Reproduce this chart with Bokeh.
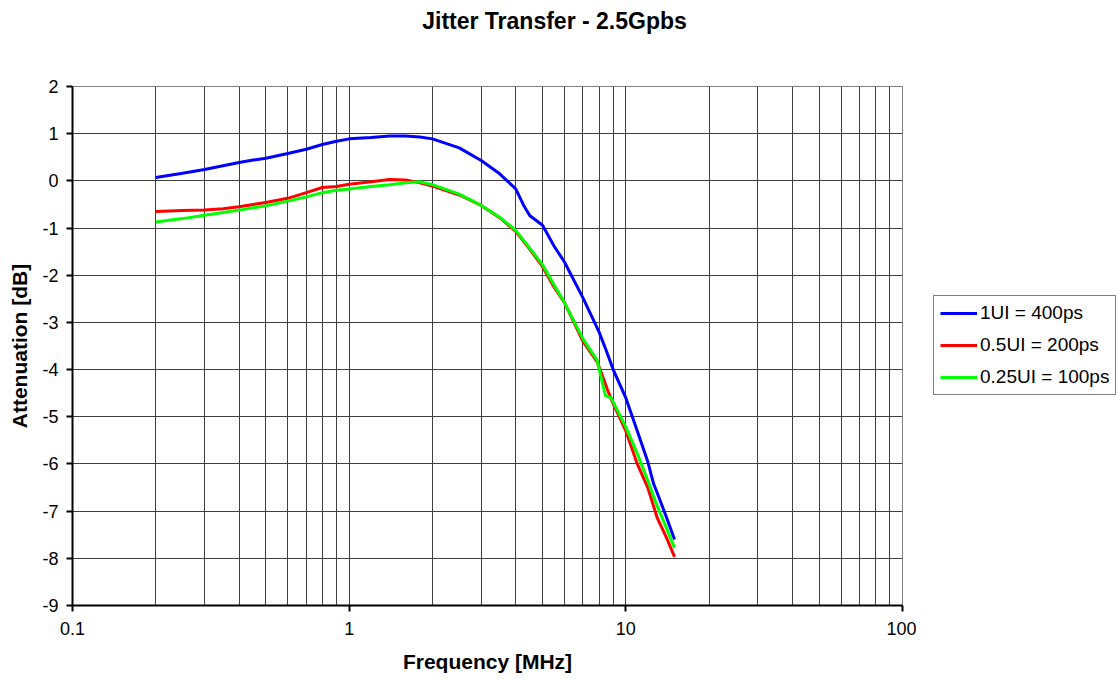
from bokeh.plotting import figure
from bokeh.models import Range1d, FixedTicker, LogTicker, Legend, LegendItem
from bokeh.core.properties import value
from bokeh.layouts import row, column
from bokeh.embed import file_html
from bokeh.resources import INLINE

# ---- data ----
freq_1ui = [0.2, 0.25, 0.3, 0.35, 0.4, 0.45, 0.5, 0.6, 0.7, 0.8, 0.9, 1.0, 1.2, 1.4, 1.6,
            1.8, 2.0, 2.5, 3.0, 3.5, 4.0, 4.3, 4.5, 5.0, 5.5, 6.0, 7.0, 8.0, 8.5, 9.0, 10,
            11, 12, 12.6, 13, 14, 15]
att_1ui = [0.07, 0.16, 0.24, 0.32, 0.39, 0.44, 0.48, 0.58, 0.67, 0.77, 0.84, 0.89, 0.92, 0.95,
           0.95, 0.93, 0.89, 0.70, 0.43, 0.15, -0.17, -0.55, -0.74, -0.94, -1.38, -1.72, -2.48,
           -3.20, -3.60, -4.00, -4.60, -5.30, -5.95, -6.42, -6.62, -7.12, -7.60]

freq_05ui = [0.2, 0.25, 0.3, 0.35, 0.4, 0.45, 0.5, 0.6, 0.7, 0.8, 0.9, 1.0, 1.2, 1.4, 1.6,
             1.8, 2.0, 2.5, 3.0, 3.5, 4.0, 4.5, 5.0, 5.5, 6.0, 7.0, 7.9, 8.6, 9.0, 10,
             11, 12, 13, 14, 15]
att_05ui = [-0.65, -0.63, -0.62, -0.59, -0.55, -0.50, -0.46, -0.37, -0.25, -0.14, -0.12, -0.07,
            -0.02, 0.03, 0.02, -0.04, -0.11, -0.30, -0.52, -0.78, -1.07, -1.45, -1.82, -2.25,
            -2.58, -3.40, -3.85, -4.44, -4.72, -5.30, -6.00, -6.50, -7.15, -7.55, -7.97]

freq_025ui = [0.2, 0.25, 0.3, 0.35, 0.4, 0.45, 0.5, 0.6, 0.7, 0.8, 0.9, 1.0, 1.2, 1.4, 1.6,
              1.8, 2.0, 2.5, 3.0, 3.5, 4.0, 4.5, 5.0, 5.5, 6.0, 7.0, 7.87, 8.44, 8.85, 10,
              11, 12, 13, 14, 15]
att_025ui = [-0.87, -0.80, -0.73, -0.67, -0.62, -0.57, -0.53, -0.43, -0.34, -0.25, -0.20, -0.17,
             -0.12, -0.08, -0.04, -0.02, -0.08, -0.28, -0.52, -0.77, -1.05, -1.43, -1.78, -2.20,
             -2.58, -3.35, -3.80, -4.55, -4.60, -5.22, -5.78, -6.35, -6.90, -7.35, -7.78]

series_freqs = [freq_1ui, freq_05ui, freq_025ui]
series_atts = [att_1ui, att_05ui, att_025ui]
series_labels = ["1UI = 400ps", "0.5UI = 200ps", "0.25UI = 100ps"]
series_colors = ["#0000FF", "#FF0000", "#00FF00"]
y_ticks = list(range(-9, 3))
x_tick_labels = {0.1: "0.1", 1: "1", 10: "10", 100: "100"}
chart_title = "Jitter Transfer - 2.5Gpbs"

FONT = "Liberation Sans"

# ---- title strip ----
tf = figure(width=1116, height=40, output_backend="svg", toolbar_location=None,
            x_range=Range1d(0, 1116), y_range=Range1d(0, 40),
            min_border_left=0, min_border_right=0, min_border_top=0, min_border_bottom=0)
tf.axis.visible = False
tf.grid.visible = False
tf.outline_line_color = None
tf.background_fill_color = "white"
tf.border_fill_color = "white"
tf.text(x=[554], y=[20], text=[chart_title], text_align="center", text_baseline="middle",
        text_font=value(FONT), text_font_size="23px", text_font_style="bold", text_color="black")

# ---- main chart ----
p = figure(width=916, height=639, x_axis_type="log",
           x_range=Range1d(0.1, 100), y_range=Range1d(-9, 2),
           output_backend="svg", toolbar_location=None,
           min_border_left=72, min_border_right=14, min_border_top=46, min_border_bottom=74)

p.background_fill_color = "white"
p.border_fill_color = "white"
p.outline_line_color = "#808080"
p.outline_line_width = 1

p.xaxis.ticker = LogTicker(num_minor_ticks=10)
p.yaxis.ticker = FixedTicker(ticks=y_ticks)
for ax in (p.xaxis[0], p.yaxis[0]):
    ax.axis_line_color = "black"
    ax.axis_line_width = 2
    ax.major_tick_line_color = "black"
    ax.major_tick_line_width = 2
    ax.major_tick_out = 6
    ax.major_tick_in = 0
    ax.minor_tick_line_color = None
    ax.major_label_text_font = FONT
    ax.major_label_text_font_size = "18px"
    ax.major_label_text_color = "black"
    ax.axis_label_text_font = FONT
    ax.axis_label_text_font_size = "21px"
    ax.axis_label_text_font_style = "bold"
    ax.axis_label_text_color = "black"

p.xaxis.axis_label = "Frequency [MHz]"
p.yaxis.axis_label = "Attenuation [dB]"
p.xaxis.major_label_standoff = 10
p.yaxis.major_label_standoff = 8
p.xaxis.axis_label_standoff = 12
p.yaxis.axis_label_standoff = 8
p.xaxis.major_label_overrides = x_tick_labels
p.yaxis.major_label_overrides = {t: str(t) for t in y_ticks}

p.xgrid.grid_line_color = "#404040"
p.xgrid.grid_line_width = 1
p.xgrid.minor_grid_line_color = "#404040"
p.xgrid.minor_grid_line_width = 1
p.ygrid.grid_line_color = "#404040"
p.ygrid.grid_line_width = 1

for fr, at, col in zip(series_freqs, series_atts, series_colors):
    p.line(fr, at, line_color=col, line_width=3)

# ---- legend strip (to the right; series drawn off-range so only legend shows) ----
lg = figure(width=200, height=639, output_backend="svg", toolbar_location=None,
            x_range=Range1d(0, 1), y_range=Range1d(100, 101),
            min_border_left=0, min_border_right=0, min_border_top=0, min_border_bottom=0)
lg.axis.visible = False
lg.grid.visible = False
lg.outline_line_color = None
lg.background_fill_color = "white"
lg.border_fill_color = "white"
items = []
for fr, at, lab, col in zip(series_freqs, series_atts, series_labels, series_colors):
    r = lg.line(fr, at, line_color=col, line_width=3)
    items.append(LegendItem(label=lab, renderers=[r]))

legend = Legend(items=items, location=(17, 210))
legend.label_text_font = FONT
legend.label_text_font_size = "19px"
legend.label_text_color = "black"
legend.border_line_color = "black"
legend.border_line_width = 1
legend.background_fill_color = "white"
legend.background_fill_alpha = 1
legend.glyph_width = 37
legend.glyph_height = 22
legend.label_height = 22
legend.label_standoff = 3
legend.spacing = 10
legend.padding = 6
legend.margin = 0
lg.add_layout(legend, "center")

layout = column(tf, row(p, lg, spacing=0), spacing=0)
open("out.html", "w").write(file_html(layout, INLINE))
